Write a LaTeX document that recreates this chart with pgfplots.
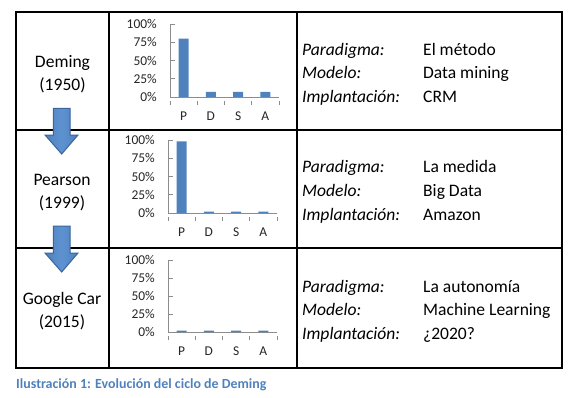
\documentclass[border=0pt]{standalone}
\usepackage{fontspec}
\setmainfont{Carlito}
\usepackage{pgfplots}
\pgfplotsset{compat=1.18}
\definecolor{barblue}{HTML}{4F81BD}
\definecolor{arrowedge}{HTML}{3A659A}
\definecolor{arrowlight}{HTML}{5E91D0}
\definecolor{axgray}{HTML}{8C8C8C}
\definecolor{capblue}{HTML}{4F81BD}
\pgfplotsset{minichart/.style={
  scale only axis, width=109bp, height=73bp, anchor=south west,
  xmin=-0.5, xmax=3.5, ymin=0, ymax=100,
  axis x line=bottom, axis y line=left,
  axis line style={-, draw=axgray, line width=0.8bp},
  tick align=inside,
  xtick={0,1,2,3}, xticklabels={P,D,S,A},
  major tick length=5bp, minor tick length=4bp,
  every major x tick/.append style={draw=none},
  minor xtick={-0.5,0.5,1.5,2.5,3.5},
  every minor x tick/.append style={yshift=-4bp},
  tick style={draw=axgray, line width=0.8bp},
  ytick={0,25,50,75,100},
  yticklabels={0\%,25\%,50\%,75\%,100\%},
  /pgf/number format/assume math mode=true,
  ticklabel style={font=\fontsize{13.5}{15}\selectfont, text=black!85, inner sep=1bp},
  yticklabel style={xshift=-12bp},
  xticklabel style={yshift=-9bp},
  ybar, bar width=10bp,
}}
\begin{document}
\begin{tikzpicture}[x=1bp,y=1bp]
\useasboundingbox (0,0) rectangle (580,397);
% table
\draw[line width=1.5bp] (16,385) rectangle (562,29);
\draw[line width=1.5bp] (16,267) -- (562,267);
\draw[line width=1.5bp] (16,149) -- (562,149);
\draw[line width=1.2bp] (109,385) -- (109,29);
\draw[line width=1.2bp] (297,385) -- (297,29);
% arrows
\foreach \t/\h/\b in {288.7/262/243, 171/144/125}{
  \draw[arrowedge, line width=1bp, left color=barblue, right color=barblue, middle color=arrowlight]
    (53.3,\t) -- (70,\t) -- (70,\h) -- (78,\h) -- (61.7,\b) -- (45,\h) -- (53.3,\h) -- cycle;
}
% left labels
\begin{scope}[every node/.style={font=\fontsize{17.6}{20}\selectfont, anchor=base, inner sep=0pt}]
\node at (62.5,397-67.7) {Deming};
\node at (62.5,397-90.5) {(1950)};
\node at (62,397-185) {Pearson};
\node at (62,397-208) {(1999)};
\node at (62,397-304.3) {Google Car};
\node at (62,397-327) {(2015)};
\end{scope}
% right text
\begin{scope}[every node/.style={font=\fontsize{17.6}{20}\selectfont, anchor=base west, inner sep=0pt}]
\node at (302,397-55) {\itshape Paradigma:};
\node at (302,397-78.5) {\itshape Modelo:};
\node at (302,397-102) {\itshape Implantación:};
\node at (423,397-55) {El método};
\node at (423,397-78.5) {Data mining};
\node at (423,397-102) {CRM};
\node at (302,397-172.7) {\itshape Paradigma:};
\node at (302,397-196.5) {\itshape Modelo:};
\node at (302,397-220) {\itshape Implantación:};
\node at (423,397-172.7) {La medida};
\node at (423,397-196.5) {Big Data};
\node at (423,397-220) {Amazon};
\node at (302,397-292.3) {\itshape Paradigma:};
\node at (302,397-315.7) {\itshape Modelo:};
\node at (302,397-339.3) {\itshape Implantación:};
\node at (423,397-292.3) {La autonomía};
\node at (423,397-315.7) {Machine Learning};
\node at (423,397-339.3) {¿2020?};
\end{scope}
% caption
\node[anchor=base west, inner sep=0pt, text=capblue, font=\bfseries\fontsize{14}{16}\selectfont] at (16,397-388) {Ilustración 1: Evolución del ciclo de Deming};
% charts
\begin{axis}[minichart, at={(170bp,300bp)}]
\addplot[fill=barblue, draw=none] coordinates {(0,80) (1,7) (2,7) (3,7)};
\end{axis}
\begin{axis}[minichart, at={(168bp,184bp)}]
\addplot[fill=barblue, draw=none] coordinates {(0,98) (1,2) (2,2) (3,2)};
\end{axis}
\begin{axis}[minichart, at={(168bp,65bp)}, height=72bp]
\addplot[fill=barblue, draw=none] coordinates {(0,2) (1,2) (2,2) (3,2)};
\end{axis}
\end{tikzpicture}
\end{document}
